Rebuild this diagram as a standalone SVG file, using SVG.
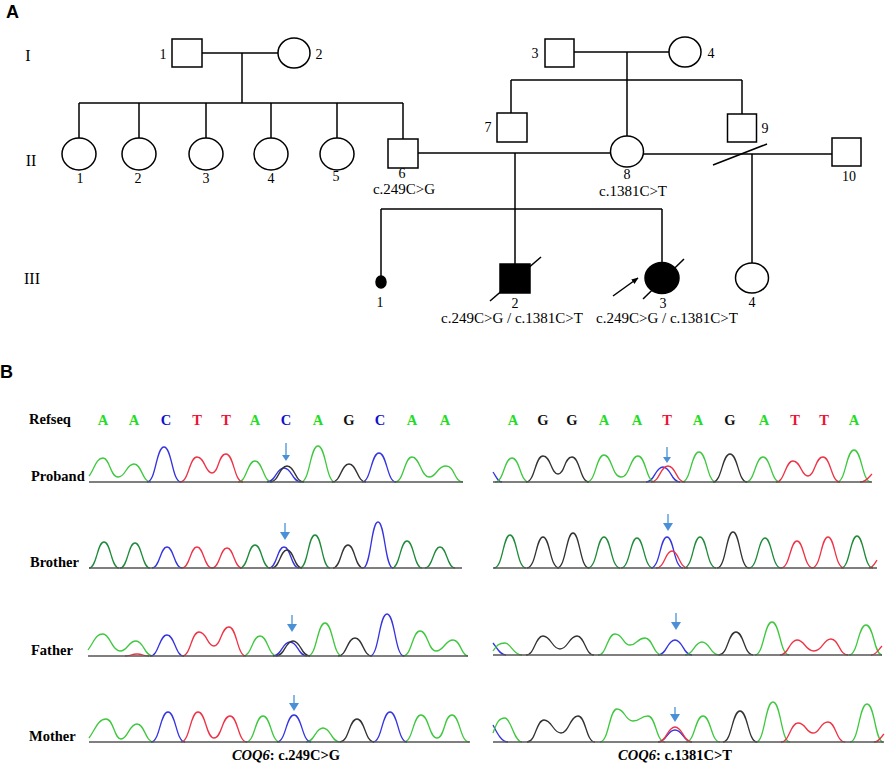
<svg xmlns="http://www.w3.org/2000/svg" width="886" height="766" viewBox="0 0 886 766">
<defs>
<style>
.ln{stroke:#000;stroke-width:1.5;fill:none}
.nd{fill:#fff;stroke:#000;stroke-width:1.5}
.af{fill:#000;stroke:#000;stroke-width:1.5}
.t{font-family:"Liberation Serif","Times New Roman",serif;font-size:14px;fill:#000}
.mut{font-family:"Liberation Serif","Times New Roman",serif;font-size:15px;fill:#000}
.rn{font-family:"Liberation Serif","Times New Roman",serif;font-size:16px;fill:#000}
.pl{font-family:"Liberation Sans",Arial,sans-serif;font-size:18px;font-weight:bold;fill:#000}
.lb{font-family:"Liberation Serif","Times New Roman",serif;font-size:14.5px;font-weight:bold;fill:#000}
.sq{font-family:"Liberation Serif","Times New Roman",serif;font-size:14.5px;font-weight:bold;text-anchor:middle}
.base{stroke:#555;stroke-width:1.7;fill:none}
.pk{fill:none;stroke-width:1.3}
.g{stroke:#3fc83f}.dg{stroke:#1f8a3a}.b{stroke:#3434e0}.r{stroke:#ee3346}.k{stroke:#333}
.sA{fill:#22dd22}.sC{fill:#1010cc}.sT{fill:#ee1133}.sG{fill:#111}
.ar{stroke:#6aa6dd;stroke-width:1.6}
.ah{fill:#4b90d6}
</style>
<marker id="harrow" viewBox="0 0 10 10" refX="9" refY="5" markerWidth="7" markerHeight="7" orient="auto" markerUnits="userSpaceOnUse">
<path d="M0,1 L10,5 L0,9 z" fill="#000"/>
</marker>
</defs>
<rect width="886" height="766" fill="#fff"/>

<text class="pl" x="6" y="18">A</text>
<text class="rn" x="28" y="61" text-anchor="middle">I</text>
<text class="rn" x="31" y="166" text-anchor="middle">II</text>
<text class="rn" x="32" y="284" text-anchor="middle">III</text>

<g id="connectors">
<line class="ln" x1="202" y1="53" x2="278" y2="53"/>
<line class="ln" x1="242" y1="53" x2="242" y2="103"/>
<line class="ln" x1="79" y1="103" x2="403" y2="103"/>
<line class="ln" x1="79" y1="103" x2="79" y2="138"/>
<line class="ln" x1="139" y1="103" x2="139" y2="138"/>
<line class="ln" x1="206" y1="103" x2="206" y2="138"/>
<line class="ln" x1="271" y1="103" x2="271" y2="138"/>
<line class="ln" x1="337" y1="103" x2="337" y2="138"/>
<line class="ln" x1="403" y1="103" x2="403" y2="139"/>
<line class="ln" x1="574" y1="52" x2="669" y2="52"/>
<line class="ln" x1="627" y1="52" x2="627" y2="136"/>
<line class="ln" x1="511" y1="80" x2="742" y2="80"/>
<line class="ln" x1="511" y1="80" x2="511" y2="113"/>
<line class="ln" x1="742" y1="80" x2="742" y2="114"/>
<line class="ln" x1="418" y1="153" x2="610" y2="153"/>
<line class="ln" x1="643" y1="154" x2="832" y2="154"/>
<line class="ln" x1="713" y1="165" x2="767" y2="144"/>
<line class="ln" x1="752" y1="154" x2="752" y2="263"/>
<line class="ln" x1="515" y1="153" x2="515" y2="264"/>
<line class="ln" x1="381" y1="209" x2="662" y2="209"/>
<line class="ln" x1="381" y1="209" x2="381" y2="276"/>
<line class="ln" x1="662" y1="209" x2="662" y2="263"/>
</g>

<g id="I-1"><rect class="nd" x="172" y="39" width="30" height="28"/><text class="t" x="163" y="59" text-anchor="middle">1</text></g>
<g id="I-2"><ellipse class="nd" cx="294" cy="53" rx="16" ry="15"/><text class="t" x="319" y="59" text-anchor="middle">2</text></g>
<g id="I-3"><rect class="nd" x="545" y="39" width="29" height="28"/><text class="t" x="535" y="58" text-anchor="middle">3</text></g>
<g id="I-4"><ellipse class="nd" cx="685" cy="52" rx="16" ry="15"/><text class="t" x="711" y="58" text-anchor="middle">4</text></g>

<g id="II-1"><ellipse class="nd" cx="79" cy="154" rx="17" ry="16"/><text class="t" x="80" y="183" text-anchor="middle">1</text></g>
<g id="II-2"><ellipse class="nd" cx="139" cy="154" rx="17" ry="16"/><text class="t" x="138" y="183" text-anchor="middle">2</text></g>
<g id="II-3"><ellipse class="nd" cx="206" cy="154" rx="17" ry="16"/><text class="t" x="206" y="183" text-anchor="middle">3</text></g>
<g id="II-4"><ellipse class="nd" cx="271" cy="154" rx="17" ry="16"/><text class="t" x="271" y="183" text-anchor="middle">4</text></g>
<g id="II-5"><ellipse class="nd" cx="337" cy="154" rx="17" ry="16"/><text class="t" x="336" y="181" text-anchor="middle">5</text></g>
<g id="II-6"><rect class="nd" x="388" y="139" width="30" height="29"/><text class="t" x="402" y="178" text-anchor="middle">6</text><text class="mut" x="404" y="194" text-anchor="middle">c.249C&gt;G</text></g>
<g id="II-7"><rect class="nd" x="497" y="113" width="30" height="29"/><text class="t" x="488" y="132" text-anchor="middle">7</text></g>
<g id="II-8"><ellipse class="nd" cx="627" cy="151.5" rx="16.5" ry="15.5"/><text class="t" x="627" y="179" text-anchor="middle">8</text><text class="mut" x="633" y="196" text-anchor="middle">c.1381C&gt;T</text></g>
<g id="II-9"><rect class="nd" x="727.5" y="114" width="29" height="28"/><text class="t" x="765" y="133" text-anchor="middle">9</text></g>
<g id="II-10"><rect class="nd" x="832" y="138" width="29" height="28"/><text class="t" x="849" y="181" text-anchor="middle">10</text></g>

<g id="III-1"><ellipse class="af" cx="381" cy="282" rx="5" ry="6"/><text class="t" x="380" y="307" text-anchor="middle">1</text></g>
<g id="III-2"><rect class="af" x="500" y="264" width="30" height="29"/><line class="ln" x1="490" y1="301" x2="541" y2="257"/><text class="t" x="515" y="308" text-anchor="middle">2</text><text class="mut" x="512" y="323" text-anchor="middle">c.249C&gt;G / c.1381C&gt;T</text></g>
<g id="III-3"><ellipse class="af" cx="662" cy="278" rx="17" ry="15.5"/><line class="ln" x1="643" y1="299" x2="684" y2="259"/><line class="ln" x1="613" y1="296" x2="638" y2="278" marker-end="url(#harrow)"/><text class="t" x="663" y="308" text-anchor="middle">3</text><text class="mut" x="667" y="323" text-anchor="middle">c.249C&gt;G / c.1381C&gt;T</text></g>
<g id="III-4"><ellipse class="nd" cx="752" cy="278" rx="16.5" ry="15"/><text class="t" x="752" y="307" text-anchor="middle">4</text></g>

<text class="pl" x="0" y="378">B</text>

<g id="refseq">
<text class="lb" x="29" y="424">Refseq</text>
<text class="sq sA" x="103" y="425">A</text><text class="sq sA" x="134" y="425">A</text><text class="sq sC" x="166" y="425">C</text><text class="sq sT" x="197" y="425">T</text><text class="sq sT" x="226" y="425">T</text><text class="sq sA" x="255" y="425">A</text><text class="sq sC" x="286" y="425">C</text><text class="sq sA" x="318" y="425">A</text><text class="sq sG" x="349" y="425">G</text><text class="sq sC" x="380" y="425">C</text><text class="sq sA" x="412" y="425">A</text><text class="sq sA" x="445" y="425">A</text>
<text class="sq sA" x="513" y="425">A</text><text class="sq sG" x="543" y="425">G</text><text class="sq sG" x="572" y="425">G</text><text class="sq sA" x="604" y="425">A</text><text class="sq sA" x="637" y="425">A</text><text class="sq sT" x="667" y="425">T</text><text class="sq sA" x="698" y="425">A</text><text class="sq sG" x="730" y="425">G</text><text class="sq sA" x="764" y="425">A</text><text class="sq sT" x="795" y="425">T</text><text class="sq sT" x="824" y="425">T</text><text class="sq sA" x="854" y="425">A</text>
</g>

<g id="proband">
<text class="lb" x="31" y="481">Proband</text>
<path class="pk g" d="M89,476 C94,470 96,458 103,458 S110,477 118,477 S126,464 134,464 S142,482 151,482 M238,482 C247,482 247,461 255,461 S263,482 272,482 M301,482 C310,482 310,446 318,446 S326,482 335,482 M395,482 C404,482 404,457 412,457 S421,477 429,477 S437,466 446,466 S454,482 463,482"/>
<path class="pk b" d="M147,482 C156,482 156,447 164,447 S172,482 181,482 M267,482 C276,482 276,468 284,468 S292,482 301,482 M362,482 C371,482 371,453 379,453 S387,482 396,482"/>
<path class="pk r" d="M180,482 C189,482 189,457 197,457 S205,473 212,473 S218,454 226,454 S234,482 243,482"/>
<path class="pk k" d="M270,482 C279,482 279,466 287,466 S295,482 304,482 M332,482 C341,482 341,464 349,464 S357,482 366,482"/>
<line class="base" x1="89" y1="482" x2="463" y2="482"/>
<path class="pk b" d="M493,472 C497,478 498,482 502,482 M646,482 C655,482 655,467 663,467 S671,482 680,482"/>
<path class="pk g" d="M495,482 C504,482 504,458 512,458 S520,482 529,482 M587,482 C596,482 596,455 604,455 S612,477 621,477 S630,456 638,456 S646,482 655,482 M682,482 C691,482 691,452 699,452 S707,482 716,482 M746,482 C755,482 755,457 763,457 S771,482 780,482 M837,482 C846,482 846,450 854,450 S862,482 871,482"/>
<path class="pk k" d="M526,482 C535,482 535,456 543,456 S551,474 558,474 S564,457 572,457 S580,482 589,482 M713,482 C722,482 722,454 730,454 S738,482 747,482"/>
<path class="pk r" d="M651,482 C660,482 660,466 668,466 S676,482 685,482 M776,482 C785,482 785,461 793,461 S801,476 808,476 S815,457 823,457 S831,482 840,482 M860,482 C866,482 868,478 872,474"/>
<line class="base" x1="493" y1="482" x2="872" y2="482"/>
<line class="ar" x1="286" y1="443" x2="286" y2="456"/><polygon class="ah" points="282,455 290,455 286,461"/>
<line class="ar" x1="667" y1="447" x2="667" y2="458"/><polygon class="ah" points="663,457 671,457 667,463"/>
</g>

<g id="brother">
<text class="lb" x="30" y="567">Brother</text>
<path class="pk dg" d="M89,568 C97,568 97,542 104,542 S111,568 119,568 M120,568 C128,568 128,543 135,543 S142,568 150,568 M240,568 C248,568 248,545 255,545 S262,568 270,568 M300,568 C308,568 308,535 315,535 S322,568 330,568 M392,568 C400,568 400,541 407,541 S414,568 422,568 M425,568 C433,568 433,547 440,547 S447,568 455,568"/>
<path class="pk b" d="M152,568 C160,568 160,547 167,547 S174,568 182,568 M269,568 C277,568 277,547 284,547 S291,568 299,568 M363,568 C371,568 371,522 378,522 S385,568 393,568"/>
<path class="pk r" d="M182,568 C190,568 190,547 197,547 S204,568 212,568 M212,568 C220,568 220,548 227,548 S234,568 242,568"/>
<path class="pk k" d="M272,568 C280,568 280,550 287,550 S294,568 302,568 M333,568 C341,568 341,545 348,545 S355,568 363,568"/>
<line class="base" x1="89" y1="568" x2="462" y2="568"/>
<path class="pk dg" d="M494,568 C503,568 503,535 510,535 S517,568 526,568 M588,568 C597,568 597,537 604,537 S611,568 620,568 M621,568 C630,568 630,538 637,538 S644,568 653,568 M684,568 C693,568 693,537 700,537 S707,568 716,568 M749,568 C758,568 758,538 765,538 S772,568 781,568 M841,568 C850,568 850,536 857,536 S864,568 873,568"/>
<path class="pk k" d="M527,568 C536,568 536,537 543,537 S550,568 559,568 M557,568 C566,568 566,533 573,533 S580,568 589,568 M717,568 C726,568 726,532 733,532 S740,568 749,568"/>
<path class="pk b" d="M651,568 C660,568 660,537 667,537 S674,568 683,568"/>
<path class="pk r" d="M656,568 C665,568 665,551 672,551 S679,568 688,568 M781,568 C790,568 790,541 797,541 S804,568 813,568 M812,568 C821,568 821,537 828,537 S835,568 844,568 M869,568 C873,568 875,563 877,560"/>
<line class="base" x1="493" y1="568" x2="877" y2="568"/>
<line class="ar" x1="285" y1="523" x2="285" y2="533"/><polygon class="ah" points="280,532 290,532 285,540"/>
<line class="ar" x1="668" y1="514" x2="668" y2="524"/><polygon class="ah" points="663,523 673,523 668,531"/>
</g>

<g id="father">
<text class="lb" x="31" y="655">Father</text>
<path class="pk g" d="M88,650 C95,640 96,634 103,634 S112,651 120,651 S128,641 136,641 S144,656 153,656 M243,656 C252,656 252,636 260,636 S268,656 277,656 M308,656 C317,656 317,623 325,623 S333,656 342,656 M403,656 C412,656 412,631 420,631 S428,651 436,651 S445,640 453,640 S461,656 468,656"/>
<path class="pk b" d="M150,656 C159,656 159,635 167,635 S175,656 184,656 M273,656 C282,656 282,642 290,642 S298,656 307,656 M370,656 C379,656 379,614 387,614 S395,656 404,656"/>
<path class="pk r" d="M182,656 C191,656 191,632 199,632 S207,646 214,646 S221,627 229,627 S237,656 246,656 M125,656 C131,656 131,654 137,654 S143,656 149,656"/>
<path class="pk k" d="M276,656 C285,656 285,641 293,641 S301,656 310,656 M338,656 C347,656 347,638 355,638 S363,656 372,656"/>
<line class="base" x1="88" y1="656" x2="468" y2="656"/>
<path class="pk b" d="M493,643 C497,648 500,655 506,655 M658,655 C667,655 667,640 675,640 S683,655 692,655"/>
<path class="pk g" d="M493,651 C497,645 499,643 505,643 S513,655 522,655 M598,655 C607,655 607,634 615,634 S623,645 630,645 S637,638 645,638 S653,655 662,655 M685,655 C694,655 694,642 702,642 S710,655 719,655 M755,655 C764,655 764,622 772,622 S780,655 789,655 M849,655 C858,655 858,625 866,625 S874,655 882,655"/>
<path class="pk k" d="M526,655 C535,655 535,636 543,636 S552,649 560,649 S569,636 577,636 S585,655 594,655 M719,655 C728,655 728,632 736,632 S744,655 753,655"/>
<path class="pk r" d="M780,655 C789,655 789,640 797,640 S805,651 814,651 S823,639 831,639 S839,655 848,655 M871,655 C876,655 878,650 882,646"/>
<line class="base" x1="493" y1="655" x2="882" y2="655"/>
<line class="ar" x1="292" y1="615" x2="292" y2="625"/><polygon class="ah" points="287,624 297,624 292,632"/>
<line class="ar" x1="676" y1="613" x2="676" y2="623"/><polygon class="ah" points="671,622 681,622 676,630"/>
</g>

<g id="mother">
<text class="lb" x="29" y="741">Mother</text>
<path class="pk g" d="M89,738 C95,730 98,719 106,719 S114,739 121,739 S129,724 137,724 S145,742 154,742 M246,742 C255,742 255,716 263,716 S271,742 280,742 M306,742 C315,742 315,728 323,728 S331,742 340,742 M404,742 C413,742 413,715 421,715 S429,738 437,738 S444,715 452,715 S460,742 469,742"/>
<path class="pk b" d="M151,742 C160,742 160,712 168,712 S176,742 185,742 M277,742 C286,742 286,715 294,715 S302,742 311,742 M373,742 C382,742 382,712 390,712 S398,742 407,742"/>
<path class="pk r" d="M181,742 C190,742 190,712 198,712 S206,738 214,738 S222,716 230,716 S238,742 247,742"/>
<path class="pk k" d="M340,742 C349,742 349,719 357,719 S365,742 374,742"/>
<line class="base" x1="89" y1="742" x2="470" y2="742"/>
<path class="pk b" d="M493,725 C498,735 502,742 508,742 M658,742 C667,742 667,730 675,730 S683,742 692,742"/>
<path class="pk g" d="M493,733 C497,722 499,718 505,718 S514,742 522,742 M600,742 C609,742 609,709 617,709 S625,721 633,721 S640,716 648,716 S656,742 665,742 M686,742 C695,742 695,716 703,716 S711,742 720,742 M756,742 C765,742 765,702 773,702 S781,742 790,742 M850,742 C859,742 859,704 867,704 S875,742 883,742"/>
<path class="pk k" d="M527,742 C536,742 536,720 544,720 S553,733 561,733 S570,716 578,716 S586,742 595,742 M723,742 C732,742 732,711 740,711 S748,742 757,742"/>
<path class="pk r" d="M658,742 C667,742 667,727 675,727 S683,742 692,742 M781,742 C790,742 790,723 798,723 S806,733 813,733 S820,722 828,722 S836,742 845,742 M874,742 C879,742 881,737 884,734"/>
<line class="base" x1="493" y1="742" x2="884" y2="742"/>
<line class="ar" x1="294" y1="695" x2="294" y2="704"/><polygon class="ah" points="289,703 299,703 294,711"/>
<line class="ar" x1="675" y1="707" x2="675" y2="715"/><polygon class="ah" points="670,714 680,714 675,722"/>
</g>

<g id="captions">
<text class="lb" x="286" y="760" text-anchor="middle"><tspan font-style="italic">COQ6</tspan>: c.249C&gt;G</text>
<text class="lb" x="675" y="760" text-anchor="middle"><tspan font-style="italic">COQ6</tspan>: c.1381C&gt;T</text>
</g>
</svg>
